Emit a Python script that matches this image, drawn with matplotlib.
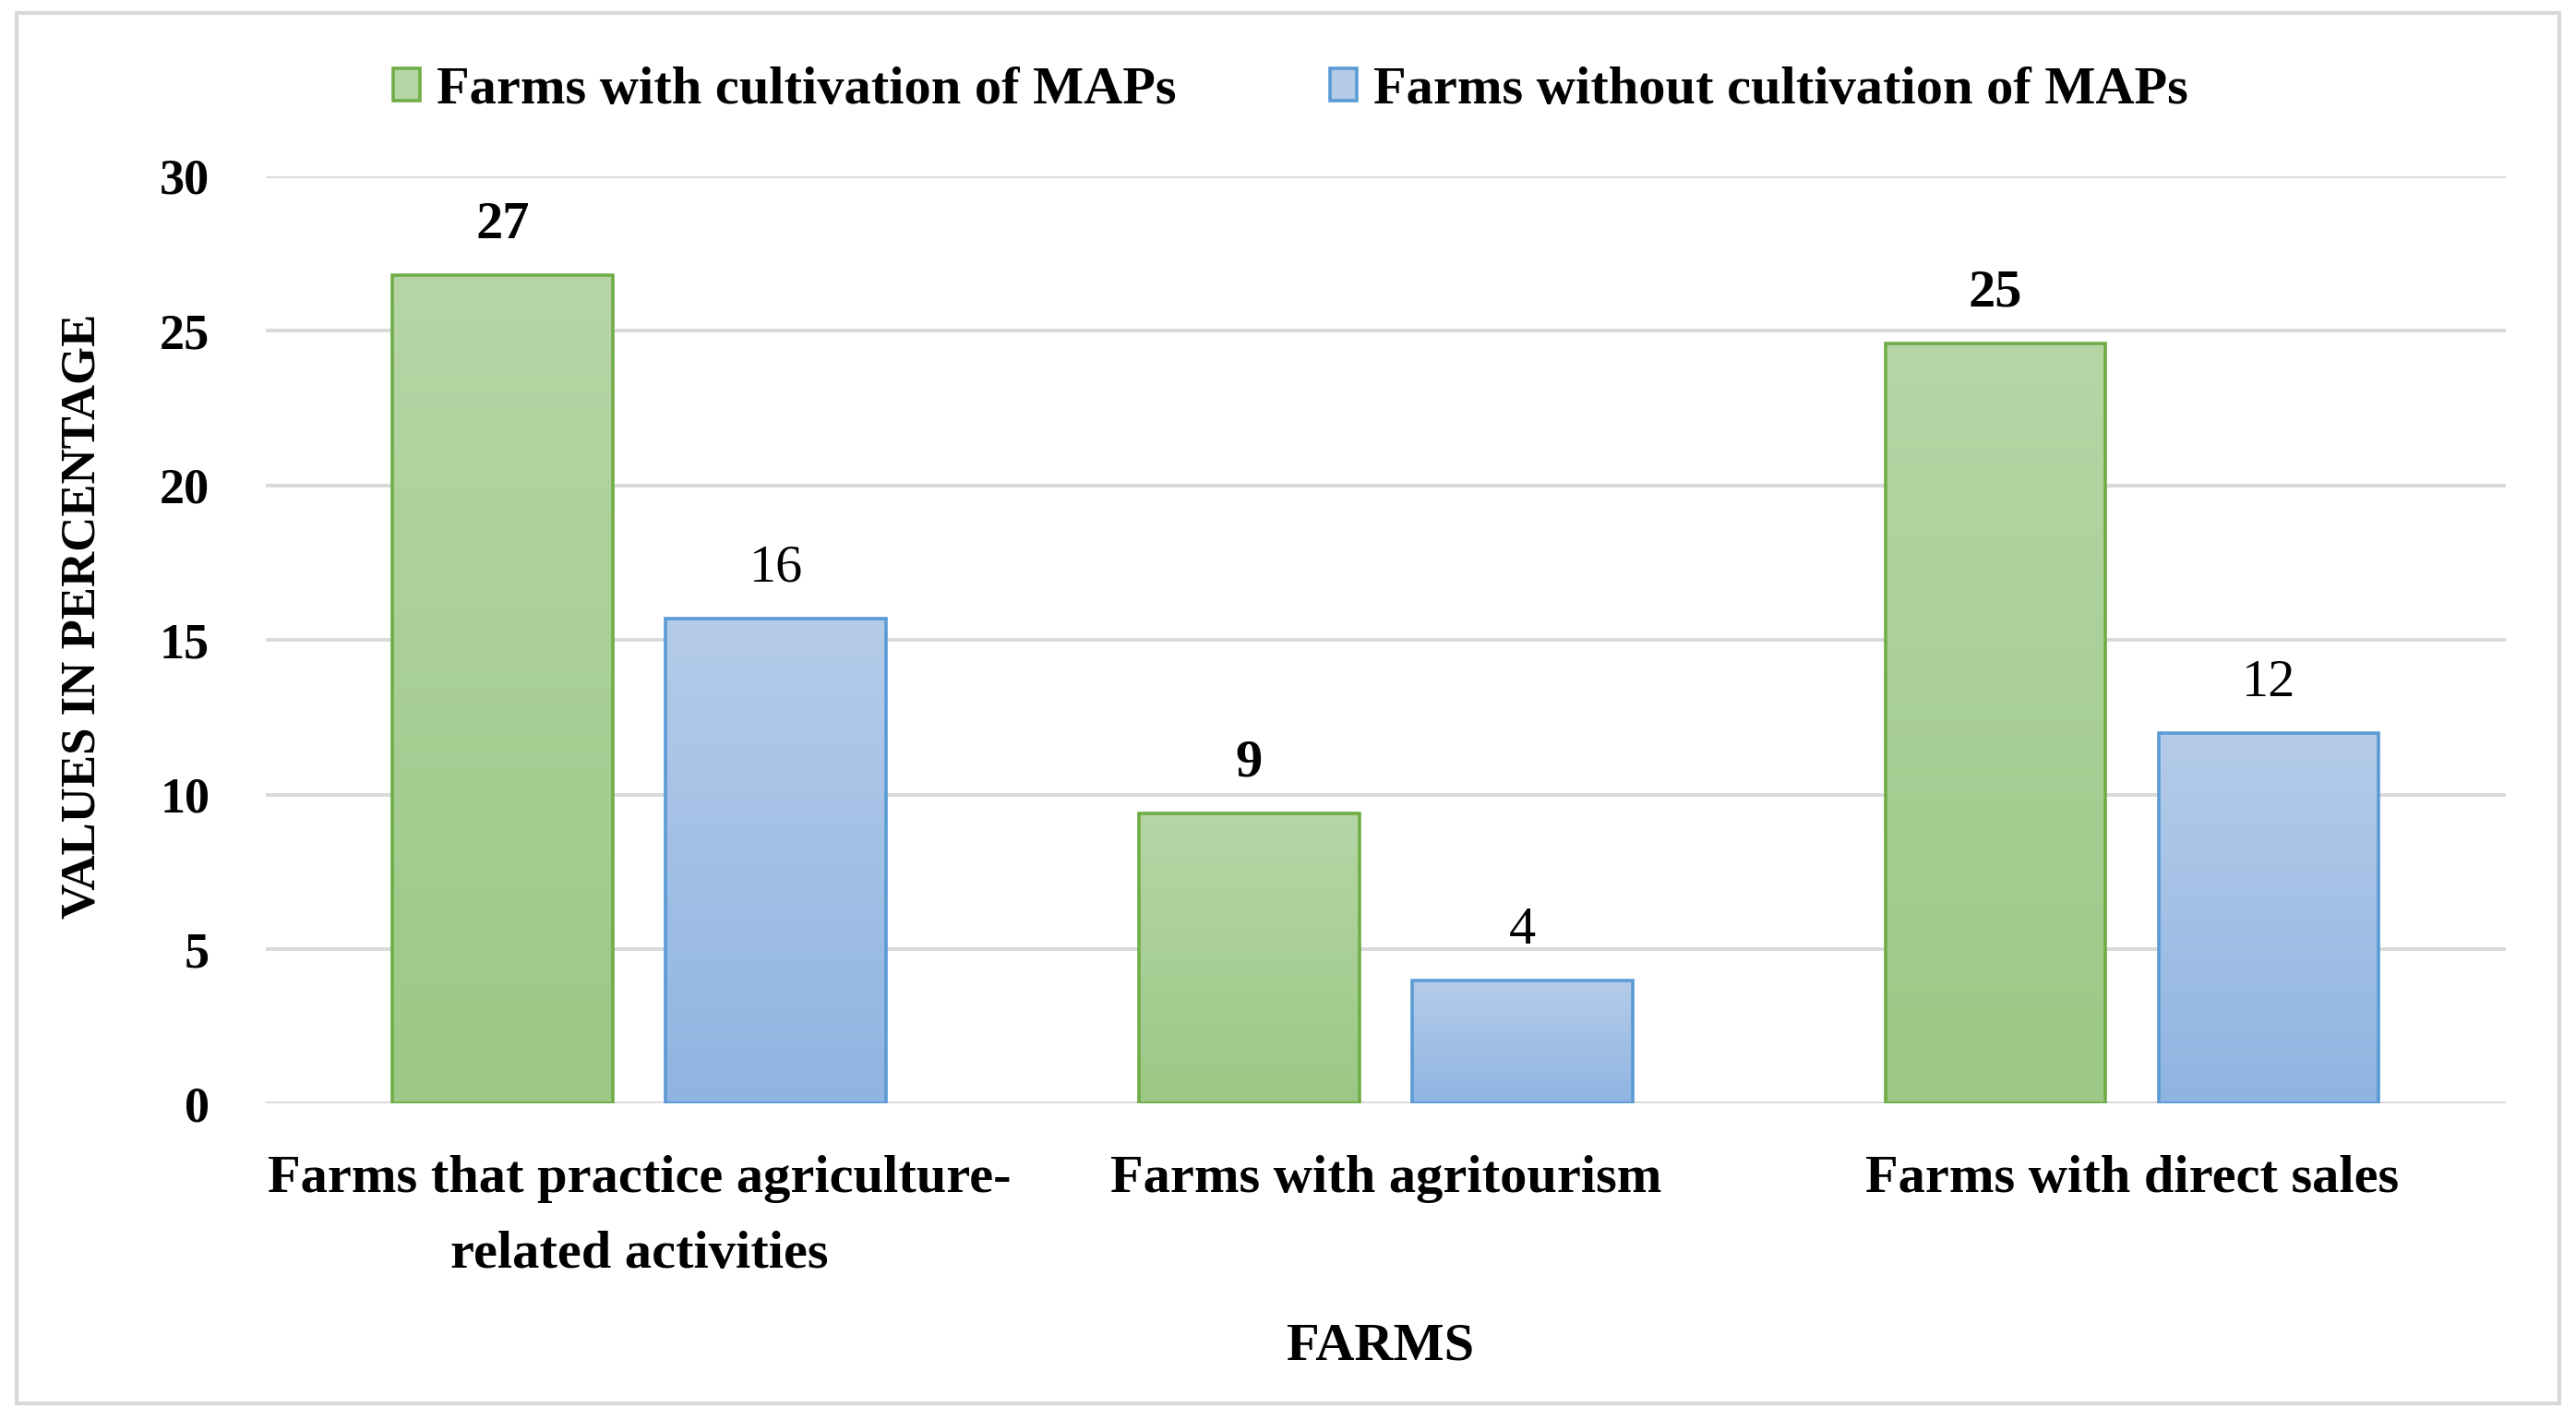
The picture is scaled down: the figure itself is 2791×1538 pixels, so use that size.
import matplotlib
matplotlib.use("Agg")
import matplotlib.pyplot as plt
import numpy as np
from matplotlib.colors import LinearSegmentedColormap
from matplotlib.patches import Rectangle

categories = ["Farms that practice agriculture-\nrelated activities",
              "Farms with agritourism",
              "Farms with direct sales"]
with_maps = [26.8, 9.4, 24.6]
without_maps = [15.7, 4.0, 12.0]
series_names = ["Farms with cultivation of MAPs", "Farms without cultivation of MAPs"]
y_ticks = [0, 5, 10, 15, 20, 25, 30]

plt.rcParams["font.family"] = ["Liberation Serif", "DejaVu Serif"]

GREEN_TOP, GREEN_BOT, GREEN_EDGE = "#b6d6a6", "#9bc886", "#70ad47"
BLUE_TOP, BLUE_BOT, BLUE_EDGE = "#b5cce9", "#8fb4e2", "#5b9bd5"
FS = 21

fig = plt.figure(figsize=(13.955, 7.69), dpi=200)
ax = fig.add_axes([0.1033, 0.2227, 0.8693, 0.6532])

x = np.arange(len(categories))
offset = 0.183
width = 0.295


def gradient_bars(xs, vals, top, bot, edge, bold):
    bars = ax.bar(xs, vals, width, facecolor="none", edgecolor=edge,
                  linewidth=1.3, zorder=3)
    cmap = LinearSegmentedColormap.from_list("g", [bot, top])
    grad = np.linspace(0, 1, 256).reshape(-1, 1)
    for b, v in zip(bars, vals):
        x0, w, h = b.get_x(), b.get_width(), b.get_height()
        im = ax.imshow(grad, cmap=cmap, aspect="auto", origin="lower",
                       extent=[x0, x0 + w, 0, h], zorder=2)
        im.set_clip_path(b)
        ax.annotate(f"{v:.0f}", (x0 + w / 2, h), xytext=(0, 10),
                    textcoords="offset points", ha="center", va="bottom",
                    fontsize=FS, fontweight="bold" if bold else "normal")
    return bars


gradient_bars(x - offset, with_maps, GREEN_TOP, GREEN_BOT, GREEN_EDGE, True)
gradient_bars(x + offset, without_maps, BLUE_TOP, BLUE_BOT, BLUE_EDGE, False)

ax.set_xlim(-0.5, len(categories) - 0.5)
ax.set_ylim(0, 30)
ax.set_yticks(y_ticks)
ax.set_yticklabels([str(t) for t in y_ticks], fontsize=19.5, fontweight="bold")
ax.set_xticks(x)
ax.set_xticklabels(categories, fontsize=FS, fontweight="bold", linespacing=1.75)
ax.tick_params(axis="y", length=0, pad=22)
ax.tick_params(axis="x", length=0, pad=20)
ax.grid(axis="y", color="#d9d9d9", linewidth=1.4, zorder=0)
ax.set_axisbelow(True)
for s in ax.spines.values():
    s.set_visible(False)

fig.text(0.0319, 0.566, "VALUES IN PERCENTAGE", rotation=90, ha="center",
         va="center", fontsize=19, fontweight="bold")
fig.text(0.536, 0.052, "FARMS", ha="center", va="center", fontsize=FS,
         fontweight="bold")

handles = [Rectangle((0, 0), 1, 1, facecolor=GREEN_TOP, edgecolor=GREEN_EDGE, linewidth=1.3),
           Rectangle((0, 0), 1, 1, facecolor=BLUE_TOP, edgecolor=BLUE_EDGE, linewidth=1.3)]
fig.legend(handles, series_names, loc="center", bbox_to_anchor=(0.501, 0.936),
           ncol=2, frameon=False, handlelength=0.5, handleheight=0.55,
           handletextpad=0.31, columnspacing=2.85,
           prop={"size": FS, "weight": "bold"})

fig.add_artist(Rectangle((0.0064, 0.0116), 0.9872, 0.9791, transform=fig.transFigure,
                         fill=False, edgecolor="#d9d9d9", linewidth=1.5))

fig.savefig("out.png", dpi=200)
